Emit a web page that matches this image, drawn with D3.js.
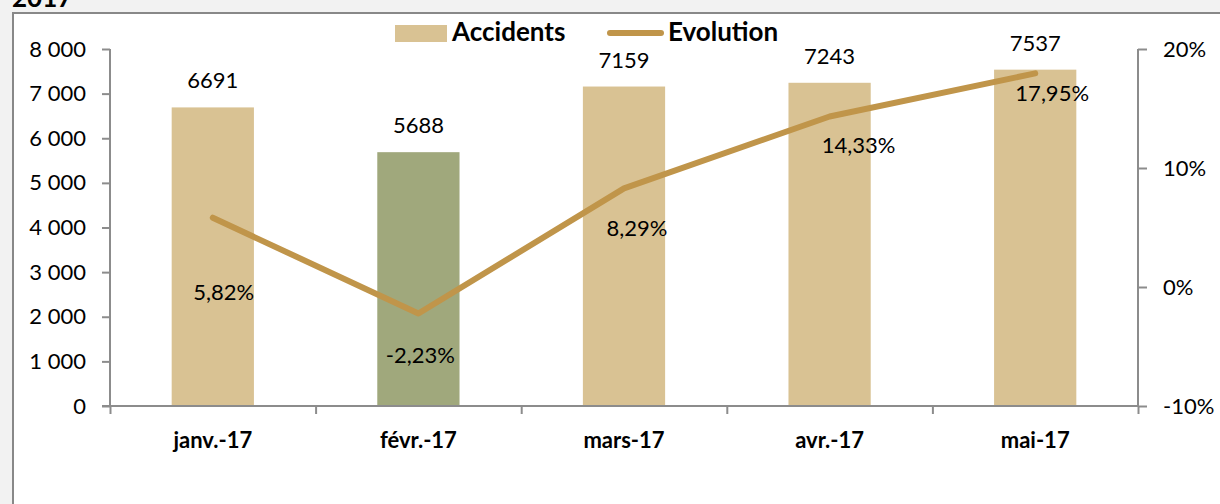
<!DOCTYPE html>
<html><head><meta charset="utf-8">
<script src="https://cdn.jsdelivr.net/npm/d3@7"></script>
<style>
html,body{margin:0;padding:0;background:#f2f2f2;}
svg{display:block;font-family:Lato, "Open Sans", sans-serif;}
</style></head>
<body>
<svg id="c" width="1220" height="504"></svg>
<script>
const categories = ["janv.-17","févr.-17","mars-17","avr.-17","mai-17"];
const accidents = [6691, 5688, 7159, 7243, 7537];
const evolution = [5.82, -2.23, 8.29, 14.33, 17.95];
const leftTicks = [0,1000,2000,3000,4000,5000,6000,7000,8000];
const rightTicks = [-10,0,10,20];
const evoLabelShift = [75, 42, 41, 30, 21];
const evoLabelDx = [11, 2, 13, 29, 17];

const svg = d3.select("#c");
const tan = "#d9c293", olive = "#a0a87c", lineCol = "#c0954a", axisCol = "#8c8c8c";
const fs = 22;

// title (cut off at top, as in the reference)
svg.append("text").attr("x",12).attr("y",7).attr("font-weight","bold").attr("font-size",26).attr("fill","#000").text("2017");
// box
svg.append("rect").attr("x",13).attr("y",13).attr("width",1220).attr("height",520).attr("fill","#fff").attr("stroke","#888").attr("stroke-width",2);

const x = d3.scaleBand().domain(categories).range([110,1138]).paddingInner(0.6).paddingOuter(0.3);
const y = d3.scaleLinear().domain([0,8000]).range([406,49]);
const y2 = d3.scaleLinear().domain([-10,20]).range([406,49]);

// bars
svg.selectAll("rect.bar").data(accidents).join("rect").attr("class","bar")
  .attr("x",(d,i)=>x(categories[i])).attr("width",x.bandwidth())
  .attr("y",d=>y(d)).attr("height",d=>y(0)-y(d))
  .attr("fill",(d,i)=>i===1?olive:tan);

// left axis
const la = svg.append("g").attr("transform","translate(110,0)")
  .call(d3.axisLeft(y).tickValues(leftTicks).tickSize(8).tickPadding(16)
    .tickFormat(d=>d3.format(",")(d).replace(/,/g," ")));
// right axis
const ra = svg.append("g").attr("transform","translate(1138,0)")
  .call(d3.axisRight(y2).tickValues(rightTicks).tickSize(9).tickPadding(16).tickFormat(d=>d+"%"));
// bottom axis (category boundaries)
const xb = d3.scaleLinear().domain([0,5]).range([110,1138]);
const ba = svg.append("g").attr("transform","translate(0,406)")
  .call(d3.axisBottom(xb).tickValues([0,1,2,3,4,5]).tickSize(8).tickFormat(""));
ba.select(".domain").attr("d","M102,0H1138");
la.select(".domain").attr("d","M0,49V406");
ra.select(".domain").attr("d","M0,49V406");
[la,ra,ba].forEach(g=>{
  g.selectAll(".domain").attr("stroke",axisCol).attr("stroke-width",2);
  g.selectAll(".tick line").attr("stroke",axisCol).attr("stroke-width",2);
  g.selectAll(".tick text").attr("font-size",fs).attr("fill","#000").attr("font-family","Lato, sans-serif");
});
// category labels
svg.selectAll("text.cat").data(categories).join("text").attr("class","cat")
  .attr("x",d=>x(d)+x.bandwidth()/2).attr("y",448).attr("text-anchor","middle")
  .attr("font-size",fs).attr("font-weight","bold").attr("fill","#000").text(d=>d);

// bar value labels
svg.selectAll("text.val").data(accidents).join("text").attr("class","val")
  .attr("x",(d,i)=>x(categories[i])+x.bandwidth()/2).attr("y",d=>y(d)-19)
  .attr("text-anchor","middle").attr("font-size",fs).attr("fill","#000").text(d=>d);

// line
const line = d3.line().x((d,i)=>x(categories[i])+x.bandwidth()/2).y(d=>y2(d));
svg.append("path").datum(evolution).attr("d",line).attr("fill","none")
  .attr("stroke",lineCol).attr("stroke-width",6).attr("stroke-linecap","round").attr("stroke-linejoin","round");

// evolution labels
svg.selectAll("text.evo").data(evolution).join("text").attr("class","evo")
  .attr("x",(d,i)=>x(categories[i])+x.bandwidth()/2+evoLabelDx[i])
  .attr("y",(d,i)=>y2(d)+evoLabelShift[i]+7)
  .attr("text-anchor","middle").attr("font-size",fs).attr("fill","#000")
  .text(d=>d3.format(".2f")(d).replace("−","-").replace(".",",")+"%");

// legend
const lg = svg.append("g");
lg.append("rect").attr("x",395).attr("y",25).attr("width",52).attr("height",17).attr("fill",tan);
lg.append("text").attr("x",452).attr("y",41).attr("font-size",26).attr("font-weight","bold").attr("fill","#000").text("Accidents");
lg.append("line").attr("x1",610).attr("x2",661).attr("y1",33).attr("y2",33).attr("stroke",lineCol).attr("stroke-width",6).attr("stroke-linecap","round");
lg.append("text").attr("x",668).attr("y",41).attr("font-size",26).attr("font-weight","bold").attr("fill","#000").text("Evolution");
</script>
</body></html>
